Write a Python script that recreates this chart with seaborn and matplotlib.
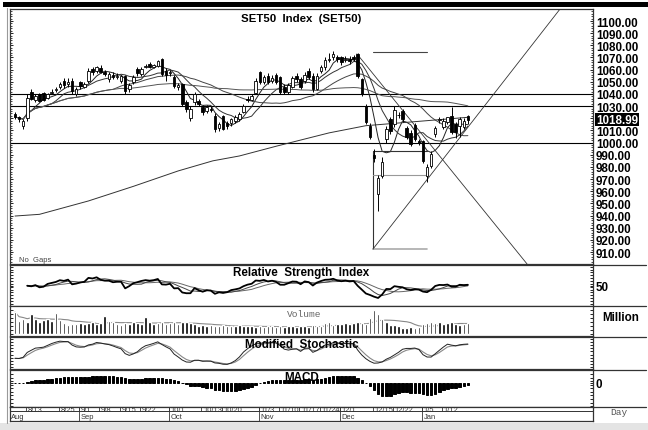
import matplotlib
matplotlib.use("Agg")
import matplotlib.pyplot as plt
import matplotlib.transforms as mtransforms
from matplotlib.patches import Rectangle
from matplotlib.lines import Line2D
import numpy as np
import pandas as pd
import seaborn as sns

sns.set_theme(style="white")
plt.rcParams["font.family"] = ["Liberation Sans", "DejaVu Sans"]

# ---------------------------
# Data
# ---------------------------
holidays = ["2014-08-12", "2014-10-23", "2014-12-05", "2014-12-10",
            "2014-12-31", "2015-01-01", "2015-01-02"]
dates = pd.bdate_range("2014-08-07", "2015-01-20")
dates = dates[~dates.isin(pd.to_datetime(holidays))]

opens = [1023.5, 1021, 1013.5, 1020, 1042, 1035, 1040, 1041, 1037, 1041, 1043, 1045.5, 1051, 1048, 1050.5, 1040,
         1050, 1046, 1050.5, 1060.5, 1059, 1061, 1058, 1052.5, 1056, 1054, 1051, 1055, 1044, 1050, 1060.5, 1056.5,
         1062, 1064.5, 1062.5, 1063, 1068.5, 1059, 1057, 1054, 1046, 1048, 1033, 1020, 1033, 1034, 1029, 1026,
         1028, 1022, 1012, 1021.5, 1016.5, 1016, 1018, 1019.5, 1025, 1036, 1035, 1041, 1058, 1050, 1055, 1051,
         1055.5, 1054, 1046, 1042, 1046, 1055, 1052, 1051, 1059, 1055, 1044, 1058.5, 1062, 1068, 1070, 1070,
         1070, 1068, 1069, 1070, 1073, 1052, 1030, 1014, 990, 957.5, 972.5, 1003, 1019.5, 1015, 1023, 1026,
         1012, 1008, 1014.5, 1001, 1001, 972.5, 981, 1007, 1018.5, 1013, 1017, 1022, 1015, 1014, 1013, 1022]
highs = [1025, 1022, 1019, 1040, 1044, 1040, 1041, 1042, 1041, 1044, 1046, 1050, 1053, 1053, 1053, 1046,
         1051, 1050, 1061, 1062, 1063, 1064, 1060, 1058, 1058, 1057, 1056, 1056, 1049, 1056, 1062, 1062,
         1065, 1066, 1065, 1068, 1069.5, 1061, 1060, 1056, 1049, 1049, 1035, 1030, 1042, 1036, 1031, 1031,
         1030, 1024, 1017, 1023, 1018, 1020, 1023, 1025, 1032, 1038, 1040, 1053, 1059, 1056, 1057, 1056,
         1057, 1055, 1048, 1049, 1055, 1057, 1054, 1058, 1061, 1057, 1057, 1064, 1070, 1074, 1075, 1072,
         1071, 1071, 1071, 1072, 1074, 1053, 1032, 1016, 995, 973, 988, 1014, 1021, 1030, 1025, 1028,
         1014, 1010, 1016, 1003, 1002, 982, 993, 1014, 1021, 1020, 1021, 1029, 1017, 1021, 1020, 1023]
lows = [1019, 1017, 1011, 1018, 1035, 1033, 1033, 1034, 1036, 1040, 1042, 1044, 1045, 1046, 1040, 1038,
        1044, 1045, 1049, 1056, 1057, 1057, 1055, 1050, 1052, 1052, 1049, 1040, 1042, 1048, 1055, 1055,
        1061, 1061, 1061, 1062, 1055, 1051, 1055, 1045, 1043, 1030, 1025, 1018, 1031, 1030, 1023, 1024,
        1025, 1009, 1009.5, 1010, 1011, 1014, 1016, 1018, 1024, 1033, 1034, 1040, 1048, 1048, 1048, 1049,
        1048, 1040, 1040, 1040, 1045, 1050, 1044, 1049, 1052, 1042, 1043, 1057, 1060, 1066, 1068, 1066,
        1064, 1066, 1065, 1067, 1053, 1038, 1015, 1003, 984, 944, 971, 1000, 1007, 1013, 1020, 1017,
        1003, 997, 1001, 998, 983, 968, 979, 1005, 1016, 1011, 1015, 1007, 1004, 1005, 1011, 1015]
closes = [1021, 1019.5, 1017.5, 1037, 1036, 1038, 1034, 1035, 1040, 1042, 1044, 1048, 1047, 1050, 1042.5, 1044,
          1046.5, 1048, 1059, 1058, 1062, 1058, 1056.5, 1056.5, 1054, 1055, 1055, 1042.5, 1047, 1054, 1057, 1060.5,
          1063, 1062, 1063.5, 1067, 1056.5, 1056, 1058, 1046.5, 1047, 1031.5, 1028, 1028, 1040, 1032, 1025, 1029,
          1027, 1011, 1015, 1011.5, 1013.5, 1019, 1021, 1023.5, 1030, 1035, 1038, 1051, 1050, 1054, 1050, 1053,
          1050, 1042, 1042, 1047, 1053, 1052.5, 1046, 1056, 1054, 1044, 1055, 1062, 1068, 1069, 1073, 1068.5,
          1066.5, 1069, 1067, 1068.5, 1055, 1040, 1017, 1005, 987.5, 970.5, 984, 1011, 1009.5, 1027, 1022.5, 1019.5,
          1005, 999, 1003, 1000, 985, 980, 991, 1012, 1019, 1018, 1021, 1009, 1009, 1019, 1017.5, 1018.99]
volume = [22, 13, 15, 12, 20, 15, 12, 14, 15, 13, 21, 14, 11, 9, 10, 10,
          11, 10, 11, 12, 10, 11, 18, 13, 12, 10, 9, 11, 10, 12, 11, 10, 17, 12, 10, 11, 12, 10,
          11, 12, 10, 12, 12, 11, 10, 8, 9, 8, 9, 8, 8, 9, 8, 8, 8, 9, 8, 8, 8, 7,
          8, 7, 8, 8, 7, 8, 7, 8, 8, 7, 8, 8, 7, 9, 8, 8, 11, 12, 9, 10,
          10, 11, 10, 11, 12, 11, 10, 16, 24, 20, 15, 12, 9, 9, 8, 6, 6, 7, 6, 7,
          10, 11, 12, 11, 12, 10, 11, 12, 10, 9, 10, 11]

# long-term average drawn on the chart (index, value)
long_ma_idx = [0, 6, 18, 29, 40, 48.5, 55, 64, 77, 86, 111]
long_ma_val = [939.6, 941, 952, 964, 976.7, 985, 989, 997, 1008, 1013.9, 1020.8]

ma_periods = [5, 10, 25, 50]
h_levels = [1040, 1030, 1000]
last_price = 1018.99

week_labels = ["8/13", "8/25", "9/1", "9/8", "9/15", "9/22", "10/1", "10/13", "10/20",
               "11/3", "11/10", "11/17", "11/24", "12/1", "12/15", "12/22", "1/5", "1/12"]
week_dates = ["2014-08-13", "2014-08-25", "2014-09-01", "2014-09-08", "2014-09-15", "2014-09-22",
              "2014-10-01", "2014-10-13", "2014-10-20", "2014-11-03", "2014-11-10", "2014-11-17",
              "2014-11-24", "2014-12-01", "2014-12-15", "2014-12-22", "2015-01-05", "2015-01-12"]
month_labels = ["Aug", "Sep", "Oct", "Nov", "Dec", "Jan"]
month_dates = ["2014-08-07", "2014-09-01", "2014-10-01", "2014-11-03", "2014-12-01", "2015-01-05"]

df = pd.DataFrame({"Open": opens, "High": highs, "Low": lows, "Close": closes, "Volume": volume},
                  index=dates)
df["i"] = np.arange(len(df))

# ---------------------------
# Indicators
# ---------------------------
for p in ma_periods:
    df[f"MA{p}"] = df["Close"].rolling(p, min_periods=1).mean()

delta = df["Close"].diff()
gain = delta.clip(lower=0).ewm(alpha=1 / 14, adjust=False).mean()
loss = (-delta.clip(upper=0)).ewm(alpha=1 / 14, adjust=False).mean()
df["RSI"] = 100 - 100 / (1 + gain / loss)
df.loc[df.index[:3], "RSI"] = np.nan          # warm-up period not shown
df["RSI_a"] = df["RSI"].rolling(5, min_periods=1).mean()
df["RSI_b"] = df["RSI"].rolling(10, min_periods=1).mean()

lo = df["Low"].rolling(10, min_periods=1).min()
hi = df["High"].rolling(10, min_periods=1).max()
fast_k = 100 * (df["Close"] - lo) / (hi - lo)
df["K"] = fast_k.ewm(span=6, adjust=False).mean()
df["D"] = df["K"].ewm(span=3, adjust=False).mean()

ema12 = df["Close"].ewm(span=12, adjust=False).mean()
ema26 = df["Close"].ewm(span=26, adjust=False).mean()
df["MACD"] = ema12 - ema26
df["VolMA"] = df["Volume"].rolling(10, min_periods=1).mean()

# ---------------------------
# Layout
# ---------------------------
W, H = 648, 431
fig = plt.figure(figsize=(W / 100, H / 100), dpi=100)


def rect(x0, y0, x1, y1):
    return [x0 / W, 1 - y1 / H, (x1 - x0) / W, (y1 - y0) / H]


xl = (-1.225, 141.67)
ax = fig.add_axes(rect(10, 10, 593, 265))
ax_rsi = fig.add_axes(rect(10, 266, 593, 307))
ax_vol = fig.add_axes(rect(10, 307, 593, 337))
ax_sto = fig.add_axes(rect(10, 338, 593, 370))
ax_macd = fig.add_axes(rect(10, 371, 593, 408))
ax_date = fig.add_axes(rect(10, 408, 593, 422))
panels = [ax, ax_rsi, ax_vol, ax_sto, ax_macd, ax_date]

for a in panels:
    a.set_xlim(*xl)
    a.set_xticks([])
    a.set_facecolor("white")
    for s in a.spines.values():
        s.set_color("#333333")
        s.set_linewidth(0.9)
    a.yaxis.tick_right()
    a.tick_params(axis="y", which="both", direction="in", length=2, width=0.6,
                  colors="black", pad=2, left=True, right=True,
                  labelleft=False, labelright=True)

bold = dict(fontweight="bold", color="black")

# ---------------------------
# Main panel
# ---------------------------
ax.set_ylim(900.15, 1109.87)
for lvl in h_levels:
    ax.axhline(lvl, color="black", lw=0.8)

colors_ma = ["#222222", "#333333", "#444444", "#555555"]
for p, c in zip(ma_periods, colors_ma):
    sns.lineplot(x=df["i"], y=df[f"MA{p}"], ax=ax, color=c, lw=0.7, legend=False)
sns.lineplot(x=long_ma_idx, y=long_ma_val, ax=ax, color="#333333", lw=0.7, legend=False)

up = df["Close"] >= df["Open"]
ax.vlines(df["i"], df["Low"], df["High"], color="black", lw=0.7, zorder=3)
body_lo = np.minimum(df["Open"], df["Close"])
body_h = np.maximum(np.abs(df["Close"] - df["Open"]), 0.6)
ax.bar(df["i"], body_h, bottom=body_lo, width=0.62,
       color=np.where(up, "white", "black"), edgecolor="black", lw=0.6, zorder=4)

# drawn study lines
box_l, box_r = 87.75, 100.9
ax.plot([box_l, box_r], [1074.2, 1074.2], color="#444444", lw=0.8)
ax.plot([box_l, box_l], [912.5, 993], color="#333333", lw=0.8)
ax.plot([box_l, box_r], [993, 993], color="#333333", lw=0.8)
ax.plot([box_l, box_r], [973.4, 973.4], color="#999999", lw=0.8)
ax.plot([box_l, box_r], [912.5, 912.5], color="#aaaaaa", lw=1.2)
ax.plot([box_l, 133.6], [912.5, 1109.9], color="#333333", lw=0.6)
ax.plot([83.8, 125.5], [1073, 900.2], color="#333333", lw=0.6)

ticks = np.arange(910, 1101, 10)
ax.set_yticks(ticks)
ax.set_yticklabels(["" if t == 1020 else f"{t:.2f}" for t in ticks], fontsize=8.4, fontweight="bold")
ax.set_yticks(np.arange(902, 1110, 2), minor=True)
ax.tick_params(axis="y", which="minor", length=1.2, width=0.5, left=True, right=True)
tr = mtransforms.blended_transform_factory(ax.transAxes, ax.transData)
ax.text(1.005, last_price, f"{last_price:.2f}", transform=tr, va="center", ha="left",
        fontsize=8.4, fontweight="bold", color="white",
        bbox=dict(facecolor="black", edgecolor="none", pad=0.6))
ax.text(0.5, 0.985, "SET50  Index  (SET50)", transform=ax.transAxes, ha="center", va="top",
        fontsize=8.2, **bold)
ax.text(0.015, 0.003, "No  Gaps", transform=ax.transAxes, ha="left", va="bottom",
        fontsize=5.5, color="#444444")

# ---------------------------
# RSI
# ---------------------------
ax_rsi.set_ylim(0, 100)
sns.lineplot(x=df["i"], y=df["RSI_b"], ax=ax_rsi, color="#666666", lw=0.7, legend=False)
sns.lineplot(x=df["i"], y=df["RSI_a"], ax=ax_rsi, color="#444444", lw=0.7, legend=False)
sns.lineplot(x=df["i"], y=df["RSI"], ax=ax_rsi, color="black", lw=1.3, legend=False)
ax_rsi.set_yticks([50])
ax_rsi.set_yticklabels(["50"], fontsize=8.4, fontweight="bold")
ax_rsi.set_yticks(np.arange(5, 100, 7), minor=True)
ax_rsi.text(0.5, 0.97, "Relative  Strength  Index", transform=ax_rsi.transAxes, ha="center",
            va="top", fontsize=8.4, **bold)

# ---------------------------
# Volume
# ---------------------------
ax_vol.set_ylim(-1.5, 28)
ax_vol.bar(df["i"], df["Volume"], width=0.62, color="black", zorder=3)
sns.lineplot(x=df["i"], y=df["VolMA"], ax=ax_vol, color="#888888", lw=0.8, legend=False)
ax_vol.set_yticks([])
ax_vol.set_yticks(np.arange(0, 28, 4), minor=True)
ax_vol.text(0.505, 0.9, "Volume", transform=ax_vol.transAxes, ha="center", va="top",
            fontsize=6.8, family="Liberation Mono", color="#666666")
ax_vol.text(1.016, 0.62, "Million", transform=ax_vol.transAxes, ha="left", va="center",
            fontsize=8.4, **bold)

# ---------------------------
# Stochastic
# ---------------------------
ax_sto.set_ylim(0, 100)
sns.lineplot(x=df["i"], y=df["D"], ax=ax_sto, color="#888888", lw=0.8, legend=False)
sns.lineplot(x=df["i"], y=df["K"], ax=ax_sto, color="#222222", lw=0.7, legend=False)
ax_sto.set_yticks([])
ax_sto.set_yticks(np.arange(5, 100, 10), minor=True)
ax_sto.text(0.5, 0.97, "Modified  Stochastic", transform=ax_sto.transAxes, ha="center", va="top",
            fontsize=8.4, **bold)

# ---------------------------
# MACD
# ---------------------------
ax_macd.set_ylim(-27, 14.6)
ax_macd.bar(df["i"], df["MACD"], width=0.62, color="black", edgecolor="black", lw=0.7, zorder=3)
ax_macd.set_yticks([0])
ax_macd.set_yticklabels(["0"], fontsize=8.4, fontweight="bold")
ax_macd.set_yticks(np.arange(-26, 14, 4), minor=True)
ax_macd.text(0.5, 0.97, "MACD", transform=ax_macd.transAxes, ha="center", va="top",
             fontsize=8.4, **bold)

# ---------------------------
# Date strip
# ---------------------------
ax_date.set_ylim(0, 1)
ax_date.set_yticks([])
ax_date.axhline(0.7, color="#333333", lw=0.7)
pos = {d: k for k, d in enumerate(df.index)}
for lab, d in zip(week_labels, week_dates):
    k = pos[pd.Timestamp(d)] - 0.3
    ax_date.plot([k, k], [0.7, 1], color="#333333", lw=0.6)
    ax_date.text(k + 0.4, 0.85, lab, ha="left", va="center", fontsize=5.4, color="#333333")
for lab, d in zip(month_labels, month_dates):
    k = pos[pd.Timestamp(d)] - 0.3
    if lab != "Aug":
        ax_date.plot([k, k], [0, 1], color="#333333", lw=0.6)
    ax_date.text(k + 0.4 if lab != "Aug" else -0.9, 0.33, lab, ha="left", va="center",
                 fontsize=5.4, color="#333333")
ax_date.text(1.03, 0.65, "Day", transform=ax_date.transAxes, ha="left", va="center",
             fontsize=6.8, family="Liberation Mono", color="#555555")

for a in panels:
    a.set_xlabel("")
    a.set_ylabel("")

# ---------------------------
# Frame
# ---------------------------
fig.add_artist(Rectangle((3 / W, 1 - 7.5 / H), (W - 3) / W, 4.5 / H, transform=fig.transFigure,
                         facecolor="black", edgecolor="none"))
for yy in [265.5, 307, 337.5, 370.5, 408]:
    fig.add_artist(Line2D([593 / W, 646 / W], [1 - yy / H] * 2, transform=fig.transFigure,
                          color="#333333", lw=0.9))
fig.add_artist(Line2D([7 / W, 7 / W], [1 - 424 / H, 1 - 9 / H], transform=fig.transFigure,
                      color="#999999", lw=0.8))
fig.add_artist(Rectangle((0, 0), 1, 1 - 424 / H, transform=fig.transFigure,
                         facecolor="#e4e4e4", edgecolor="none"))

fig.savefig("out.png", dpi=100)
